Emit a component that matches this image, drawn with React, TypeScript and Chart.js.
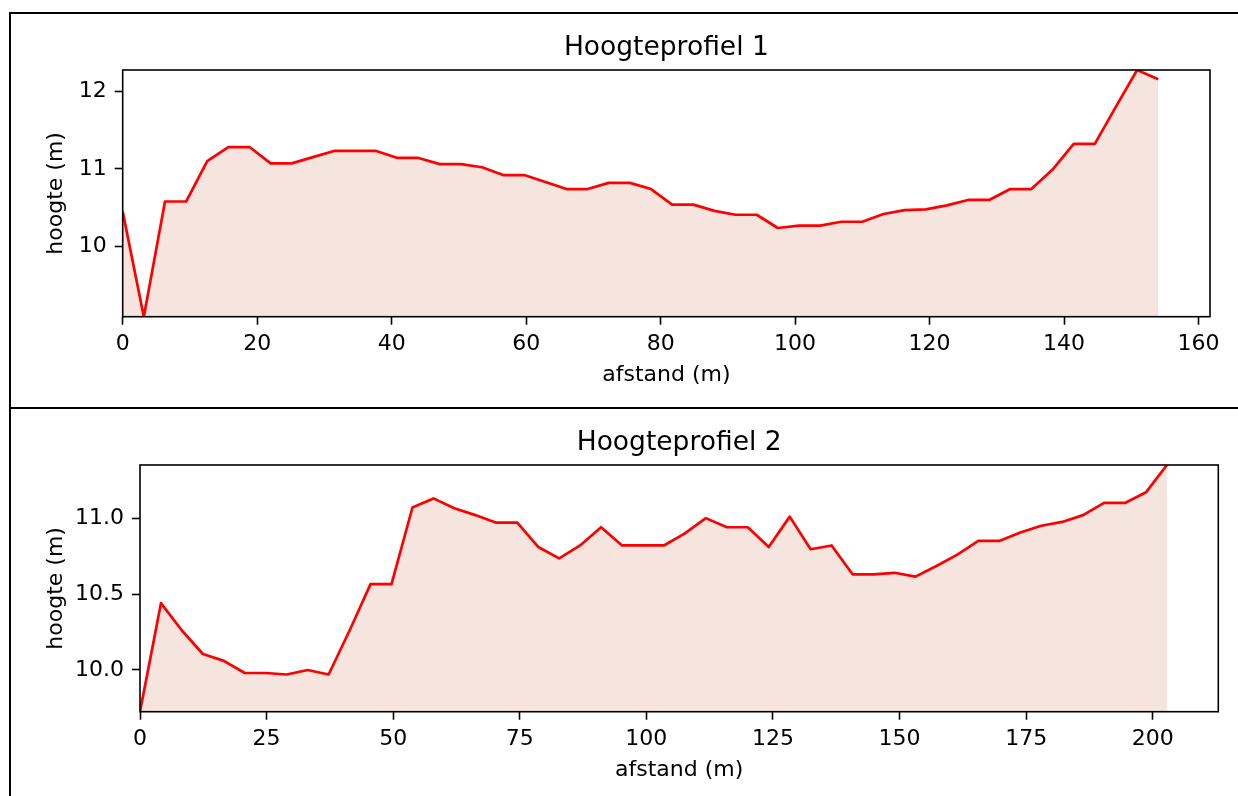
import React, { useEffect, useRef } from 'react';
import { Chart, registerables } from 'chart.js';

Chart.register(...registerables);

// ---------- data ----------
const distance1 = [
  0, 3.14, 6.29, 9.43, 12.57, 15.71, 18.86, 22.0, 25.14, 28.29,
  31.43, 34.57, 37.71, 40.86, 44.0, 47.14, 50.29, 53.43, 56.57, 59.71,
  62.86, 66.0, 69.14, 72.29, 75.43, 78.57, 81.71, 84.86, 88.0, 91.14,
  94.29, 97.43, 100.57, 103.71, 106.86, 110.0, 113.14, 116.29, 119.43, 122.57,
  125.71, 128.86, 132.0, 135.14, 138.29, 141.43, 144.57, 147.71, 150.86, 154.0,
];
const height1 = [
  10.45, 9.1, 10.58, 10.58, 11.1, 11.28, 11.28, 11.07, 11.07, 11.15,
  11.23, 11.23, 11.23, 11.14, 11.14, 11.06, 11.06, 11.02, 10.92, 10.92,
  10.83, 10.74, 10.74, 10.82, 10.82, 10.74, 10.54, 10.54, 10.46, 10.41,
  10.41, 10.24, 10.27, 10.27, 10.32, 10.32, 10.42, 10.47, 10.48, 10.53,
  10.6, 10.6, 10.74, 10.74, 10.99, 11.32, 11.32, 11.8, 12.27, 12.15,
];
const distance2 = [
  0, 4.14, 8.28, 12.42, 16.56, 20.69, 24.83, 28.97, 33.11, 37.25,
  41.39, 45.53, 49.67, 53.81, 57.95, 62.08, 66.22, 70.36, 74.5, 78.64,
  82.78, 86.92, 91.06, 95.2, 99.33, 103.47, 107.61, 111.75, 115.89, 120.03,
  124.17, 128.31, 132.45, 136.59, 140.72, 144.86, 149.0, 153.14, 157.28, 161.42,
  165.56, 169.7, 173.84, 177.98, 182.11, 186.25, 190.39, 194.53, 198.67, 202.81,
];
const height2 = [
  9.725, 10.44, 10.26, 10.105, 10.06, 9.98, 9.98, 9.97, 10.0, 9.97,
  10.26, 10.565, 10.565, 11.07, 11.13, 11.065, 11.02, 10.97, 10.97, 10.81,
  10.735, 10.82, 10.94, 10.82, 10.82, 10.82, 10.9, 11.0, 10.94, 10.94,
  10.81, 11.01, 10.795, 10.82, 10.63, 10.63, 10.64, 10.615, 10.685, 10.76,
  10.85, 10.85, 10.905, 10.95, 10.975, 11.02, 11.1, 11.1, 11.17, 11.35,
];

const xTicks1 = [0, 20, 40, 60, 80, 100, 120, 140, 160];
const xTickLabels1 = ['0', '20', '40', '60', '80', '100', '120', '140', '160'];
const yTicks1 = [10, 11, 12];
const yTickLabels1 = ['10', '11', '12'];
const xTicks2 = [0, 25, 50, 75, 100, 125, 150, 175, 200];
const xTickLabels2 = ['0', '25', '50', '75', '100', '125', '150', '175', '200'];
const yTicks2 = [10.0, 10.5, 11.0];
const yTickLabels2 = ['10.0', '10.5', '11.0'];

const title1 = 'Hoogteprofiel 1';
const title2 = 'Hoogteprofiel 2';
const xLabel = 'afstand (m)';
const yLabel = 'hoogte (m)';

// ---------- styling ----------
const FONT = 'DejaVu Sans';
const LINE_COLOR = '#ff0000';
const FILL_COLOR = '#f6e5df';

const framePlugin = {
  id: 'axesFrame',
  afterDatasetsDraw(chart: any) {
    const { ctx, chartArea: a } = chart;
    ctx.save();
    ctx.strokeStyle = '#000';
    ctx.lineWidth = 1.6;
    ctx.strokeRect(a.left, a.top, a.right - a.left, a.bottom - a.top);
    ctx.restore();
  },
};

type Props = {
  width: number;
  height: number;
  dist: number[];
  elev: number[];
  title: string;
  xTicks: number[];
  xTickLabels: string[];
  yTicks: number[];
  yTickLabels: string[];
  yAxisWidth: number;
  xAxisHeight: number;
  padRight: number;
  xTitlePadBottom: number;
};

function Profile(p: Props) {
  const ref = useRef<HTMLCanvasElement>(null);
  useEffect(() => {
    if (!ref.current) return;
    const xMax = p.dist[p.dist.length - 1] * 1.05;
    const yMin = Math.min(...p.elev);
    const yMax = Math.max(...p.elev);
    const tickFont = { family: FONT, size: 22 };
    const chart = new Chart(ref.current, {
      type: 'line',
      data: {
        datasets: [
          {
            data: p.dist.map((x, i) => ({ x, y: p.elev[i] })),
            borderColor: LINE_COLOR,
            borderWidth: 2.7,
            borderJoinStyle: 'round',
            backgroundColor: FILL_COLOR,
            fill: 'start',
            pointRadius: 0,
            tension: 0,
          },
        ],
      },
      options: {
        responsive: false,
        animation: false,
        layout: { padding: { left: 0, right: p.padRight, top: 0, bottom: 0 } },
        plugins: {
          legend: { display: false },
          tooltip: { enabled: false },
          title: {
            display: true,
            text: p.title,
            fullSize: false,
            color: '#000',
            font: { family: FONT, size: 26.5, weight: 'normal' },
            padding: { top: 18.6, bottom: 5.6 },
          },
        },
        scales: {
          x: {
            type: 'linear',
            min: 0,
            max: xMax,
            afterBuildTicks: (s: any) => {
              s.ticks = p.xTicks.map((v) => ({ value: v }));
            },
            afterFit: (s: any) => {
              s.height = p.xAxisHeight;
            },
            border: { display: false },
            grid: {
              display: true,
              drawOnChartArea: false,
              drawTicks: true,
              tickLength: 8,
              tickColor: '#000',
              tickWidth: 1.6,
            },
            ticks: {
              color: '#000',
              font: tickFont,
              padding: 6,
              maxRotation: 0,
              autoSkip: false,
              callback: (_v: any, i: number) => p.xTickLabels[i],
            },
            title: {
              display: true,
              text: xLabel,
              color: '#000',
              font: tickFont,
              padding: { top: 0, bottom: p.xTitlePadBottom },
            },
          },
          y: {
            type: 'linear',
            min: yMin,
            max: yMax,
            afterBuildTicks: (s: any) => {
              s.ticks = p.yTicks.map((v) => ({ value: v }));
            },
            afterFit: (s: any) => {
              s.width = p.yAxisWidth;
            },
            border: { display: false },
            grid: {
              display: true,
              drawOnChartArea: false,
              drawTicks: true,
              tickLength: 8,
              tickColor: '#000',
              tickWidth: 1.6,
            },
            ticks: {
              color: '#000',
              font: tickFont,
              padding: 8,
              autoSkip: false,
              callback: (_v: any, i: number) => p.yTickLabels[i],
            },
            title: {
              display: true,
              text: yLabel,
              color: '#000',
              font: tickFont,
              padding: { top: 31.8, bottom: 0 },
            },
          },
        },
      } as any,
      plugins: [framePlugin],
    });
    return () => chart.destroy();
  }, []);
  return (
    <canvas
      ref={ref}
      width={p.width}
      height={p.height}
      style={{ display: 'block', width: p.width, height: p.height }}
    />
  );
}

export default function App() {
  return (
    <div
      style={{
        position: 'absolute',
        left: 0,
        top: 0,
        width: 1238,
        height: 796,
        overflow: 'hidden',
        background: '#fff',
      }}
    >
      <div style={{ position: 'absolute', left: 11, top: 14 }}>
        <Profile
          width={1227}
          height={393}
          dist={distance1}
          elev={height1}
          title={title1}
          xTicks={xTicks1}
          xTickLabels={xTickLabels1}
          yTicks={yTicks1}
          yTickLabels={yTickLabels1}
          yAxisWidth={111.7}
          xAxisHeight={90.3}
          padRight={28}
          xTitlePadBottom={18.3}
        />
      </div>
      <div style={{ position: 'absolute', left: 11, top: 409 }}>
        <Profile
          width={1227}
          height={387}
          dist={distance2}
          elev={height2}
          title={title2}
          xTicks={xTicks2}
          xTickLabels={xTickLabels2}
          yTicks={yTicks2}
          yTickLabels={yTickLabels2}
          yAxisWidth={129}
          xAxisHeight={84.3}
          padRight={19.7}
          xTitlePadBottom={12.3}
        />
      </div>
      <div style={{ position: 'absolute', left: 9, top: 12, width: 2, height: 784, background: '#000' }} />
      <div style={{ position: 'absolute', left: 9, top: 12, width: 1229, height: 2, background: '#000' }} />
      <div style={{ position: 'absolute', left: 9, top: 407, width: 1229, height: 2, background: '#000' }} />
    </div>
  );
}
